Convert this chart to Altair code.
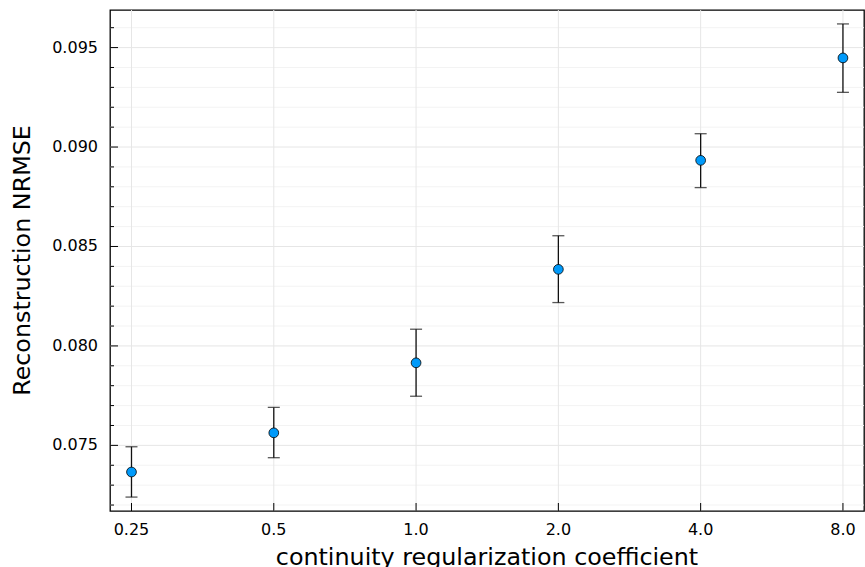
import altair as alt
import pandas as pd

# ---- data ----
coef = [0.25, 0.5, 1.0, 2.0, 4.0, 8.0]
coef_labels = ["0.25", "0.5", "1.0", "2.0", "4.0", "8.0"]
nrmse = [0.07366, 0.07563, 0.07915, 0.08385, 0.08933, 0.09448]
lower = [0.07240, 0.07438, 0.07747, 0.08218, 0.08796, 0.09275]
upper = [0.07493, 0.07691, 0.08084, 0.08554, 0.09067, 0.09619]

y_major = [0.075, 0.080, 0.085, 0.090, 0.095]
y_major_labels = ["0.075", "0.080", "0.085", "0.090", "0.095"]
y_minor = [0.072, 0.073, 0.074, 0.076, 0.077, 0.078, 0.079, 0.081, 0.082,
           0.083, 0.084, 0.086, 0.087, 0.088, 0.089, 0.091, 0.092, 0.093,
           0.094, 0.096]

x_title = "continuity regularization coefficient"
y_title = "Reconstruction NRMSE"

W, H = 754, 501
FONT = "DejaVu Sans"

df = pd.DataFrame({"coef": coef, "nrmse": nrmse, "lo": lower, "hi": upper})
df_xt = pd.DataFrame({"v": coef, "lab": coef_labels})
df_ymaj = pd.DataFrame({"v": y_major, "lab": y_major_labels})
df_ymin = pd.DataFrame({"v": y_minor})

xscale = alt.Scale(type="log", base=2, domain=[0.22515, 8.864], nice=False)
yscale = alt.Scale(domain=[0.07170, 0.09689], nice=False, zero=False)


def X(field):
    return alt.X(field, scale=xscale, axis=None)


def Y(field):
    return alt.Y(field, scale=yscale, axis=None)


# grid lines
grid_minor = alt.Chart(df_ymin).mark_rule(color="#f3f3f3", strokeWidth=1).encode(y=Y("v:Q"))
grid_major = alt.Chart(df_ymaj).mark_rule(color="#e6e6e6", strokeWidth=1).encode(y=Y("v:Q"))
grid_x = alt.Chart(df_xt).mark_rule(color="#e6e6e6", strokeWidth=1).encode(x=X("v:Q"))

# inward ticks
tick_ymaj = alt.Chart(df_ymaj).mark_rule(color="black", strokeWidth=1).encode(
    y=Y("v:Q"), x=alt.value(0), x2=alt.value(8))
tick_ymin = alt.Chart(df_ymin).mark_rule(color="black", strokeWidth=1).encode(
    y=Y("v:Q"), x=alt.value(0), x2=alt.value(4))
tick_x = alt.Chart(df_xt).mark_rule(color="black", strokeWidth=1).encode(
    x=X("v:Q"), y=alt.value(H - 8), y2=alt.value(H))

# tick labels
xlab = alt.Chart(df_xt).mark_text(font=FONT, fontSize=16, color="black",
                                  align="center", baseline="top").encode(
    x=X("v:Q"), y=alt.value(H + 11), text="lab:N")
ylab = alt.Chart(df_ymaj).mark_text(font=FONT, fontSize=16, color="black",
                                    align="right", baseline="middle").encode(
    y=Y("v:Q"), x=alt.value(-12), text="lab:N")

# axis titles
xtitle = alt.Chart(df.head(1)).mark_text(font=FONT, fontSize=23.8, color="black",
                                         align="center", baseline="alphabetic").encode(
    x=alt.value(W / 2), y=alt.value(555), text=alt.value(x_title))
ytitle = alt.Chart(df.head(1)).mark_text(font=FONT, fontSize=23.8, color="black",
                                         align="center", baseline="middle",
                                         angle=270).encode(
    x=alt.value(-87), y=alt.value(H / 2), text=alt.value(y_title))

base = alt.Chart(df)
err = base.mark_rule(color="#111111", strokeWidth=1.3).encode(
    x=X("coef:Q"), y=Y("lo:Q"), y2="hi:Q")
cap_lo = base.mark_tick(color="#111111", thickness=1.3, size=12, orient="horizontal").encode(
    x=X("coef:Q"), y=Y("lo:Q"))
cap_hi = base.mark_tick(color="#111111", thickness=1.3, size=12, orient="horizontal").encode(
    x=X("coef:Q"), y=Y("hi:Q"))
pts = base.mark_point(filled=True, fill="#009AFA", stroke="black", strokeWidth=0.8,
                      size=95, opacity=1, shape="circle").encode(
    x=X("coef:Q"), y=Y("nrmse:Q"))

chart = alt.layer(
    grid_minor, grid_major, grid_x, tick_ymin, tick_ymaj, tick_x,
    xlab, ylab, xtitle, ytitle,
    err, cap_lo, cap_hi, pts,
).properties(
    width=W, height=H,
    autosize=alt.AutoSizeParams(type="none"),
    padding={"left": 110, "top": 10, "right": 1, "bottom": 56},
    background="white",
).configure_view(stroke="black", strokeWidth=1.3)

chart.save("out.html", embed_options={"renderer": "svg", "actions": False})
